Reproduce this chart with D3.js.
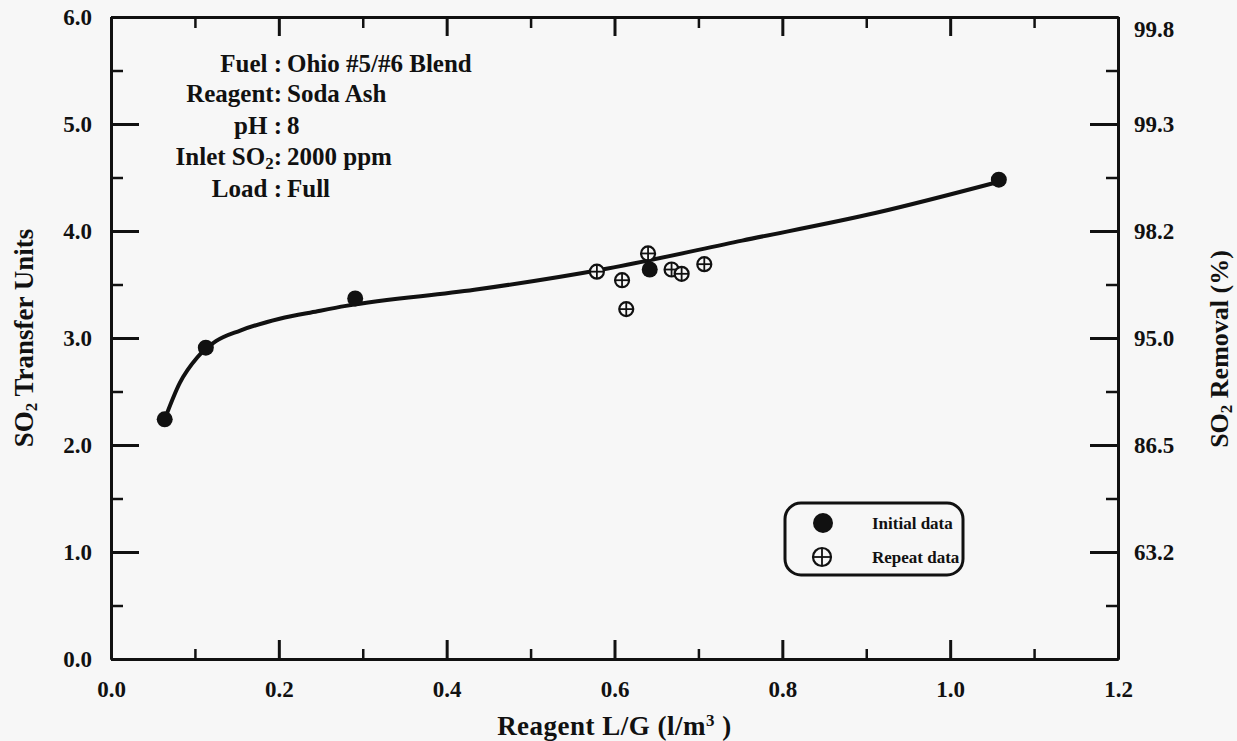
<!DOCTYPE html>
<html>
<head>
<meta charset="utf-8">
<script src="https://cdn.jsdelivr.net/npm/d3@7"></script>
<style>
  body { margin: 0; background: #f7f7f7; }
  svg { display: block; font-family: "Liberation Serif", "Times New Roman", serif; font-weight: bold; }
</style>
</head>
<body>
<div id="chart"></div>
<script>
// values
const initialX = [0.064, 0.113, 0.291, 0.642, 1.058];
const initialY = [2.24, 2.91, 3.37, 3.64, 4.48];
const repeatX = [0.579, 0.609, 0.614, 0.640, 0.668, 0.680, 0.707];
const repeatY = [3.62, 3.54, 3.27, 3.79, 3.64, 3.60, 3.69];
const fitX = [0.064, 0.082, 0.103, 0.125, 0.154, 0.201, 0.246, 0.28, 0.433, 0.592, 0.752, 0.912, 1.058];
const fitY = [2.24, 2.58, 2.82, 2.97, 3.07, 3.18, 3.25, 3.30, 3.45, 3.65, 3.91, 4.17, 4.46];
const xTicks = [0, 0.2, 0.4, 0.6, 0.8, 1.0, 1.2];
const xMinorTicks = [0.1, 0.3, 0.5, 0.7, 0.9, 1.1];
const yTicks = [0, 1, 2, 3, 4, 5, 6];
const yMinorTicks = [0.5, 1.5, 2.5, 3.5, 4.5, 5.5];
const removalTicks = [1, 2, 3, 4, 5, 6];
const removalLabels = ["63.2", "86.5", "95.0", "98.2", "99.3", "99.8"];
const noteLabels = ["Fuel :", "Reagent:", "pH :", "Inlet SO|2|:", "Load :"];
const noteValues = ["Ohio #5/#6 Blend", "Soda Ash", "8", "2000 ppm", "Full"];
const legendLabels = ["Initial data", "Repeat data"];

const width = 1237, height = 741;
const margin = { top: 17, right: 119, bottom: 82, left: 111 };
const ink = "#111";
const serif = "'Liberation Serif', 'Times New Roman', serif";

const svg = d3.select("#chart")
  .append("svg")
  .attr("width", width)
  .attr("height", height)
  .style("background-color", "#f7f7f7");

const x = d3.scaleLinear().domain([0, 1.2]).range([margin.left, width - margin.right]);
const y = d3.scaleLinear().domain([0, 6]).range([height - margin.bottom, margin.top]);

function styleAxis(g, w) {
  g.select(".domain").attr("stroke", ink).attr("stroke-width", 3);
  g.selectAll(".tick line").attr("stroke", ink).attr("stroke-width", w);
  g.selectAll(".tick text")
    .attr("fill", ink)
    .style("font-family", serif)
    .style("font-weight", "bold")
    .style("font-size", "23px");
}

// bottom
svg.append("g")
  .attr("transform", `translate(0,${y(0)})`)
  .call(d3.axisBottom(x).tickValues(xTicks).tickSize(-19).tickSizeOuter(0).tickPadding(22).tickFormat(d3.format(".1f")))
  .call(g => styleAxis(g, 3));
svg.append("g")
  .attr("transform", `translate(0,${y(0)})`)
  .call(d3.axisBottom(x).tickValues(xMinorTicks).tickSize(-10).tickSizeOuter(0).tickFormat(""))
  .call(g => styleAxis(g, 2.5));

// top
svg.append("g")
  .attr("transform", `translate(0,${y(6)})`)
  .call(d3.axisTop(x).tickValues(xTicks).tickSize(-19).tickSizeOuter(0).tickFormat(""))
  .call(g => styleAxis(g, 3));
svg.append("g")
  .attr("transform", `translate(0,${y(6)})`)
  .call(d3.axisTop(x).tickValues(xMinorTicks).tickSize(-11).tickSizeOuter(0).tickFormat(""))
  .call(g => styleAxis(g, 2.5));

// left
svg.append("g")
  .attr("transform", `translate(${x(0)},0)`)
  .call(d3.axisLeft(y).tickValues(yTicks).tickSize(-28).tickSizeOuter(0).tickPadding(19).tickFormat(d3.format(".1f")))
  .call(g => styleAxis(g, 3));
svg.append("g")
  .attr("transform", `translate(${x(0)},0)`)
  .call(d3.axisLeft(y).tickValues(yMinorTicks).tickSize(-12).tickSizeOuter(0).tickFormat(""))
  .call(g => styleAxis(g, 2.5));

// right (removal %)
svg.append("g")
  .attr("transform", `translate(${x(1.2)},0)`)
  .call(d3.axisRight(y).tickValues(removalTicks).tickSize(-28).tickSizeOuter(0).tickPadding(16)
    .tickFormat((d, i) => removalLabels[i]))
  .call(g => styleAxis(g, 3))
  .call(g => g.selectAll(".tick text").filter(d => d === 6).attr("transform", "translate(0,12)"));
svg.append("g")
  .attr("transform", `translate(${x(1.2)},0)`)
  .call(d3.axisRight(y).tickValues(yMinorTicks).tickSize(-12).tickSizeOuter(0).tickFormat(""))
  .call(g => styleAxis(g, 2.5));

// fitted curve
const fit = fitX.map((v, i) => ({ x: v, y: fitY[i] }));
svg.append("path")
  .datum(fit)
  .attr("d", d3.line().x(d => x(d.x)).y(d => y(d.y)).curve(d3.curveMonotoneX))
  .attr("fill", "none")
  .attr("stroke", ink)
  .attr("stroke-width", 4);

// markers
function crossCircle(g, r) {
  g.append("circle").attr("r", r).attr("fill", "#f7f7f7").attr("stroke", ink).attr("stroke-width", 2.2);
  g.append("line").attr("x1", -r).attr("x2", r).attr("stroke", ink).attr("stroke-width", 1.8);
  g.append("line").attr("y1", -r).attr("y2", r).attr("stroke", ink).attr("stroke-width", 1.8);
}

svg.append("g")
  .selectAll("g")
  .data(repeatX.map((v, i) => ({ x: v, y: repeatY[i] })))
  .enter()
  .append("g")
  .attr("transform", d => `translate(${x(d.x)},${y(d.y)})`)
  .each(function() { crossCircle(d3.select(this), 7); });

svg.append("g")
  .selectAll("circle")
  .data(initialX.map((v, i) => ({ x: v, y: initialY[i] })))
  .enter()
  .append("circle")
  .attr("cx", d => x(d.x))
  .attr("cy", d => y(d.y))
  .attr("r", 8)
  .attr("fill", ink);

// condition notes
function addSub(textSel, str, subSize) {
  str.split("|").forEach((part, i) => {
    if (!part) return;
    const t = textSel.append("tspan").text(part);
    if (i % 2 === 1) t.attr("baseline-shift", "-25%").style("font-size", subSize);
  });
}

const noteBaselines = [72, 102, 134, 165, 197];
const notes = svg.append("g").attr("fill", ink).style("font-size", "25px");
noteLabels.forEach((lab, i) => {
  const t = notes.append("text").attr("x", 282).attr("y", noteBaselines[i]).attr("text-anchor", "end");
  addSub(t, lab, "17px");
  notes.append("text").attr("x", 287).attr("y", noteBaselines[i]).text(noteValues[i]);
});

// legend
const legend = svg.append("g").attr("transform", "translate(785,503)");
legend.append("rect")
  .attr("width", 178).attr("height", 72).attr("rx", 16)
  .attr("fill", "none").attr("stroke", ink).attr("stroke-width", 3);
legend.append("circle").attr("cx", 38).attr("cy", 20).attr("r", 10).attr("fill", ink);
crossCircle(legend.append("g").attr("transform", "translate(37,54)"), 9);
legend.selectAll("text.lg")
  .data(legendLabels)
  .enter()
  .append("text")
  .attr("class", "lg")
  .attr("x", 87)
  .attr("y", (d, i) => 26 + i * 34)
  .attr("fill", ink)
  .style("font-size", "17px")
  .text(d => d);

// axis titles
const xTitle = svg.append("text")
  .attr("x", (x(0) + x(1.2)) / 2)
  .attr("y", 735)
  .attr("text-anchor", "middle")
  .attr("fill", ink)
  .style("font-size", "27px")
  .style("letter-spacing", "0.5px");
xTitle.append("tspan").text("Reagent L/G (l/m");
xTitle.append("tspan").text("3").attr("baseline-shift", "super").style("font-size", "17px");
xTitle.append("tspan").text(" )");

const yTitle = svg.append("text")
  .attr("transform", `translate(33,${(y(0) + y(6)) / 2}) rotate(-90)`)
  .attr("text-anchor", "middle")
  .attr("fill", ink)
  .style("font-size", "27px");
addSub(yTitle, "SO|2| Transfer Units", "17px");

const y2Title = svg.append("text")
  .attr("transform", `translate(1228,349) rotate(-90)`)
  .attr("text-anchor", "middle")
  .attr("fill", ink)
  .style("font-size", "26px");
addSub(y2Title, "SO|2| Removal (%)", "17px");
</script>
</body>
</html>
